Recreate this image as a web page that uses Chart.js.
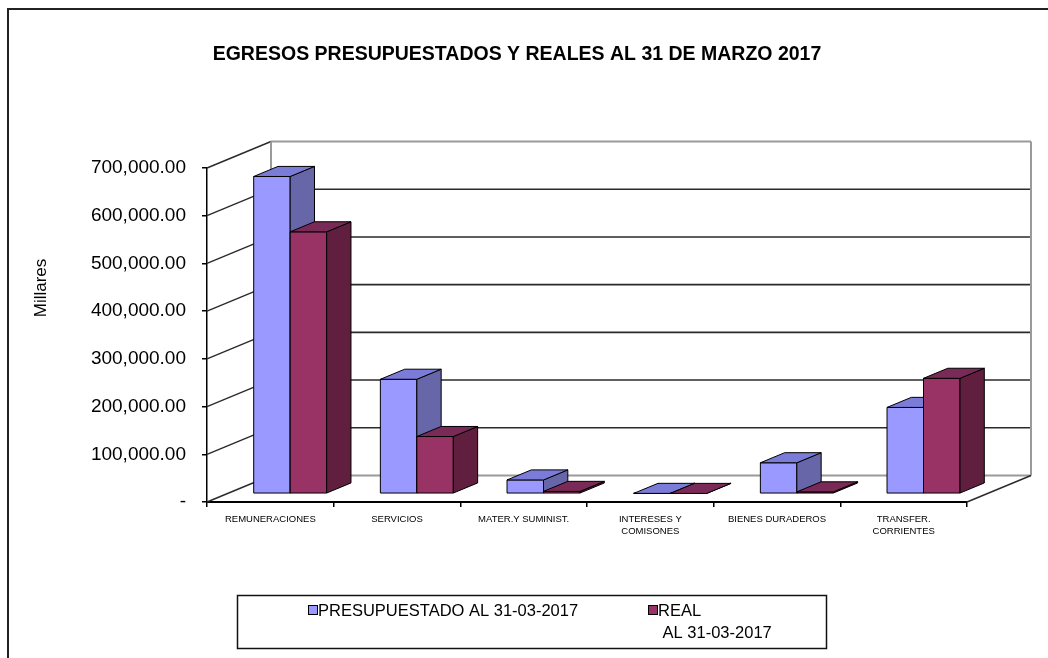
<!DOCTYPE html>
<html><head><meta charset="utf-8">
<script src="https://cdn.jsdelivr.net/npm/chart.js@4.4.0/dist/chart.umd.min.js"></script>
<style>html,body{margin:0;padding:0;background:#fff;overflow:hidden}#wrap{width:1048px;height:658px;position:relative}</style>
</head><body><div id="wrap"><canvas id="c" width="1048" height="658"></canvas></div>
<script>
// ---- data ----
const chartTitle = 'EGRESOS PRESUPUESTADOS Y REALES AL 31 DE MARZO 2017';
const yAxisTitle = 'Millares';
const categories = ['REMUNERACIONES', 'SERVICIOS', 'MATER.Y SUMINIST.', ['INTERESES Y', 'COMISONES'], 'BIENES DURADEROS', ['TRANSFER.', 'CORRIENTES']];
const presupuestado = [665000, 240000, 29000, 800, 65000, 181000];
const real = [549000, 120000, 5000, 700, 4000, 242000];
const seriesNames = ['PRESUPUESTADO AL 31-03-2017', 'REAL AL 31-03-2017'];
const legendLines = [['PRESUPUESTADO AL 31-03-2017'], ['REAL', ' AL 31-03-2017']];
const yTickValues = [0, 100000, 200000, 300000, 400000, 500000, 600000, 700000];

// ---- styles ----
const faceColors = [
  {front: '#9999FF', top: '#7B7BD8', side: '#6666A8'},
  {front: '#993366', top: '#7A2A56', side: '#611F40'}
];
const DEPTH = {wx: 64, wy: -26.5, f0: 0.31, f1: 0.69};

function fmt(v) {
  if (v === 0) return '-';
  return v.toLocaleString('en-US', {minimumFractionDigits: 2, maximumFractionDigits: 2});
}

const plot3d = {
  id: 'plot3d',
  beforeDatasetsDraw(chart) {
    const ctx = chart.ctx;
    const ca = chart.chartArea;
    const ys = chart.scales.y;
    const {wx, wy, f0, f1} = DEPTH;
    ctx.save();
    // back wall gridlines
    yTickValues.forEach((v, k) => {
      const y = ys.getPixelForValue(v);
      const edge = (k === yTickValues.length - 1) || v === 0;
      ctx.beginPath();
      ctx.moveTo(ca.left + wx, y + wy);
      ctx.lineTo(ca.right + wx, y + wy);
      ctx.strokeStyle = edge ? '#9a9a9a' : '#2a2a2a';
      ctx.lineWidth = edge ? 2 : 1.6;
      ctx.stroke();
      // left side wall diagonal
      ctx.beginPath();
      ctx.moveTo(ca.left, y);
      ctx.lineTo(ca.left + wx, y + wy);
      ctx.strokeStyle = '#2a2a2a';
      ctx.lineWidth = 1.4;
      ctx.stroke();
    });
    const yTop = ys.getPixelForValue(yTickValues[yTickValues.length - 1]);
    const yBot = ys.getPixelForValue(0);
    // back wall left & right vertical edges
    ctx.strokeStyle = '#9a9a9a';
    ctx.lineWidth = 2;
    ctx.beginPath();
    ctx.moveTo(ca.left + wx, yTop + wy); ctx.lineTo(ca.left + wx, yBot + wy);
    ctx.moveTo(ca.right + wx, yTop + wy); ctx.lineTo(ca.right + wx, yBot + wy);
    ctx.stroke();
    // floor right diagonal
    ctx.beginPath();
    ctx.moveTo(ca.right, yBot); ctx.lineTo(ca.right + wx, yBot + wy);
    ctx.strokeStyle = '#2a2a2a'; ctx.lineWidth = 1.4; ctx.stroke();

    // bars
    const metas = chart.data.datasets.map((d, i) => chart.getDatasetMeta(i));
    const fx = wx * f0, fy = wy * f0, bx = wx * (f1 - f0), by = wy * (f1 - f0);
    ctx.lineWidth = 1;
    ctx.strokeStyle = '#000';
    ctx.lineJoin = 'round';
    for (let i = 0; i < chart.data.labels.length; i++) {
      metas.forEach((meta, d) => {
        const el = meta.data[i];
        const p = el.getProps(['x', 'y', 'base', 'width'], true);
        const x0 = p.x - p.width / 2 + fx, x1 = p.x + p.width / 2 + fx;
        const yt = p.y + fy, yb = p.base + fy;
        const c = faceColors[d];
        // front
        ctx.beginPath();
        ctx.rect(x0, yt, x1 - x0, yb - yt);
        ctx.fillStyle = c.front; ctx.fill(); ctx.stroke();
        // side
        ctx.beginPath();
        ctx.moveTo(x1, yt); ctx.lineTo(x1 + bx, yt + by); ctx.lineTo(x1 + bx, yb + by); ctx.lineTo(x1, yb); ctx.closePath();
        ctx.fillStyle = c.side; ctx.fill(); ctx.stroke();
        // top
        ctx.beginPath();
        ctx.moveTo(x0, yt); ctx.lineTo(x1, yt); ctx.lineTo(x1 + bx, yt + by); ctx.lineTo(x0 + bx, yt + by); ctx.closePath();
        ctx.fillStyle = c.top; ctx.fill(); ctx.stroke();
      });
    }
    ctx.restore();
    return false;
  },
  afterDraw(chart) {
    const ctx = chart.ctx;
    ctx.save();
    // outer frame
    ctx.strokeStyle = '#222';
    ctx.lineWidth = 2;
    ctx.strokeRect(8, 9, 1200, 800);
    // title
    ctx.fillStyle = '#000';
    ctx.textAlign = 'center';
    ctx.textBaseline = 'middle';
    ctx.font = 'bold 19.5px "Liberation Sans", Arial, sans-serif';
    ctx.fillText(chartTitle, 517, 55);
    // y axis title
    ctx.save();
    ctx.translate(41, 288);
    ctx.rotate(-Math.PI / 2);
    ctx.font = '17px "Liberation Sans", Arial, sans-serif';
    ctx.fillText(yAxisTitle, 0, 0);
    ctx.restore();
    // legend
    ctx.strokeStyle = '#111';
    ctx.lineWidth = 1.5;
    ctx.strokeRect(237.5, 595.5, 589, 53);
    ctx.font = '16.5px "Liberation Sans", Arial, sans-serif';
    ctx.textAlign = 'left';
    const itemX = [308, 648];
    chart.data.datasets.forEach((ds, d) => {
      ctx.fillStyle = ds.backgroundColor;
      ctx.fillRect(itemX[d], 605, 9, 9);
      ctx.strokeStyle = '#000'; ctx.lineWidth = 1;
      ctx.strokeRect(itemX[d] + 0.5, 605.5, 9, 9);
      ctx.fillStyle = '#000';
      legendLines[d].forEach((ln, j) => ctx.fillText(ln, itemX[d] + 10, 611 + j * 22));
    });
    ctx.restore();
  }
};

new Chart(document.getElementById('c'), {
  type: 'bar',
  data: {
    labels: categories,
    datasets: [
      {label: seriesNames[0], data: presupuestado, backgroundColor: faceColors[0].front},
      {label: seriesNames[1], data: real, backgroundColor: faceColors[1].front}
    ]
  },
  plugins: [plot3d],
  options: {
    responsive: false,
    animation: false,
    devicePixelRatio: 1,
    layout: {padding: {top: 168, right: 81, bottom: 0, left: 0}},
    datasets: {bar: {categoryPercentage: 0.576, barPercentage: 1}},
    plugins: {legend: {display: false}, title: {display: false}, tooltip: {enabled: false}},
    scales: {
      x: {
        afterFit: s => { s.height = 156; },
        grid: {drawOnChartArea: false, offset: true, tickLength: 5, color: '#000', lineWidth: 1.5},
        border: {display: true, color: '#000', width: 2},
        ticks: {color: '#000', padding: 6, maxRotation: 0, autoSkip: false, font: {family: '"Liberation Sans", Arial, sans-serif', size: 9.5, lineHeight: 1.3}}
      },
      y: {
        min: 0, max: 700000,
        afterFit: s => { s.width = 207; },
        afterBuildTicks: s => { s.ticks = yTickValues.map(v => ({value: v})); },
        grid: {drawOnChartArea: false, tickLength: 5, color: '#000', lineWidth: 1.5},
        border: {display: true, color: '#000', width: 1.5},
        ticks: {color: '#000', padding: 16, callback: v => fmt(v), font: {family: '"Liberation Sans", Arial, sans-serif', size: 19}}
      }
    }
  }
});
</script></body></html>
